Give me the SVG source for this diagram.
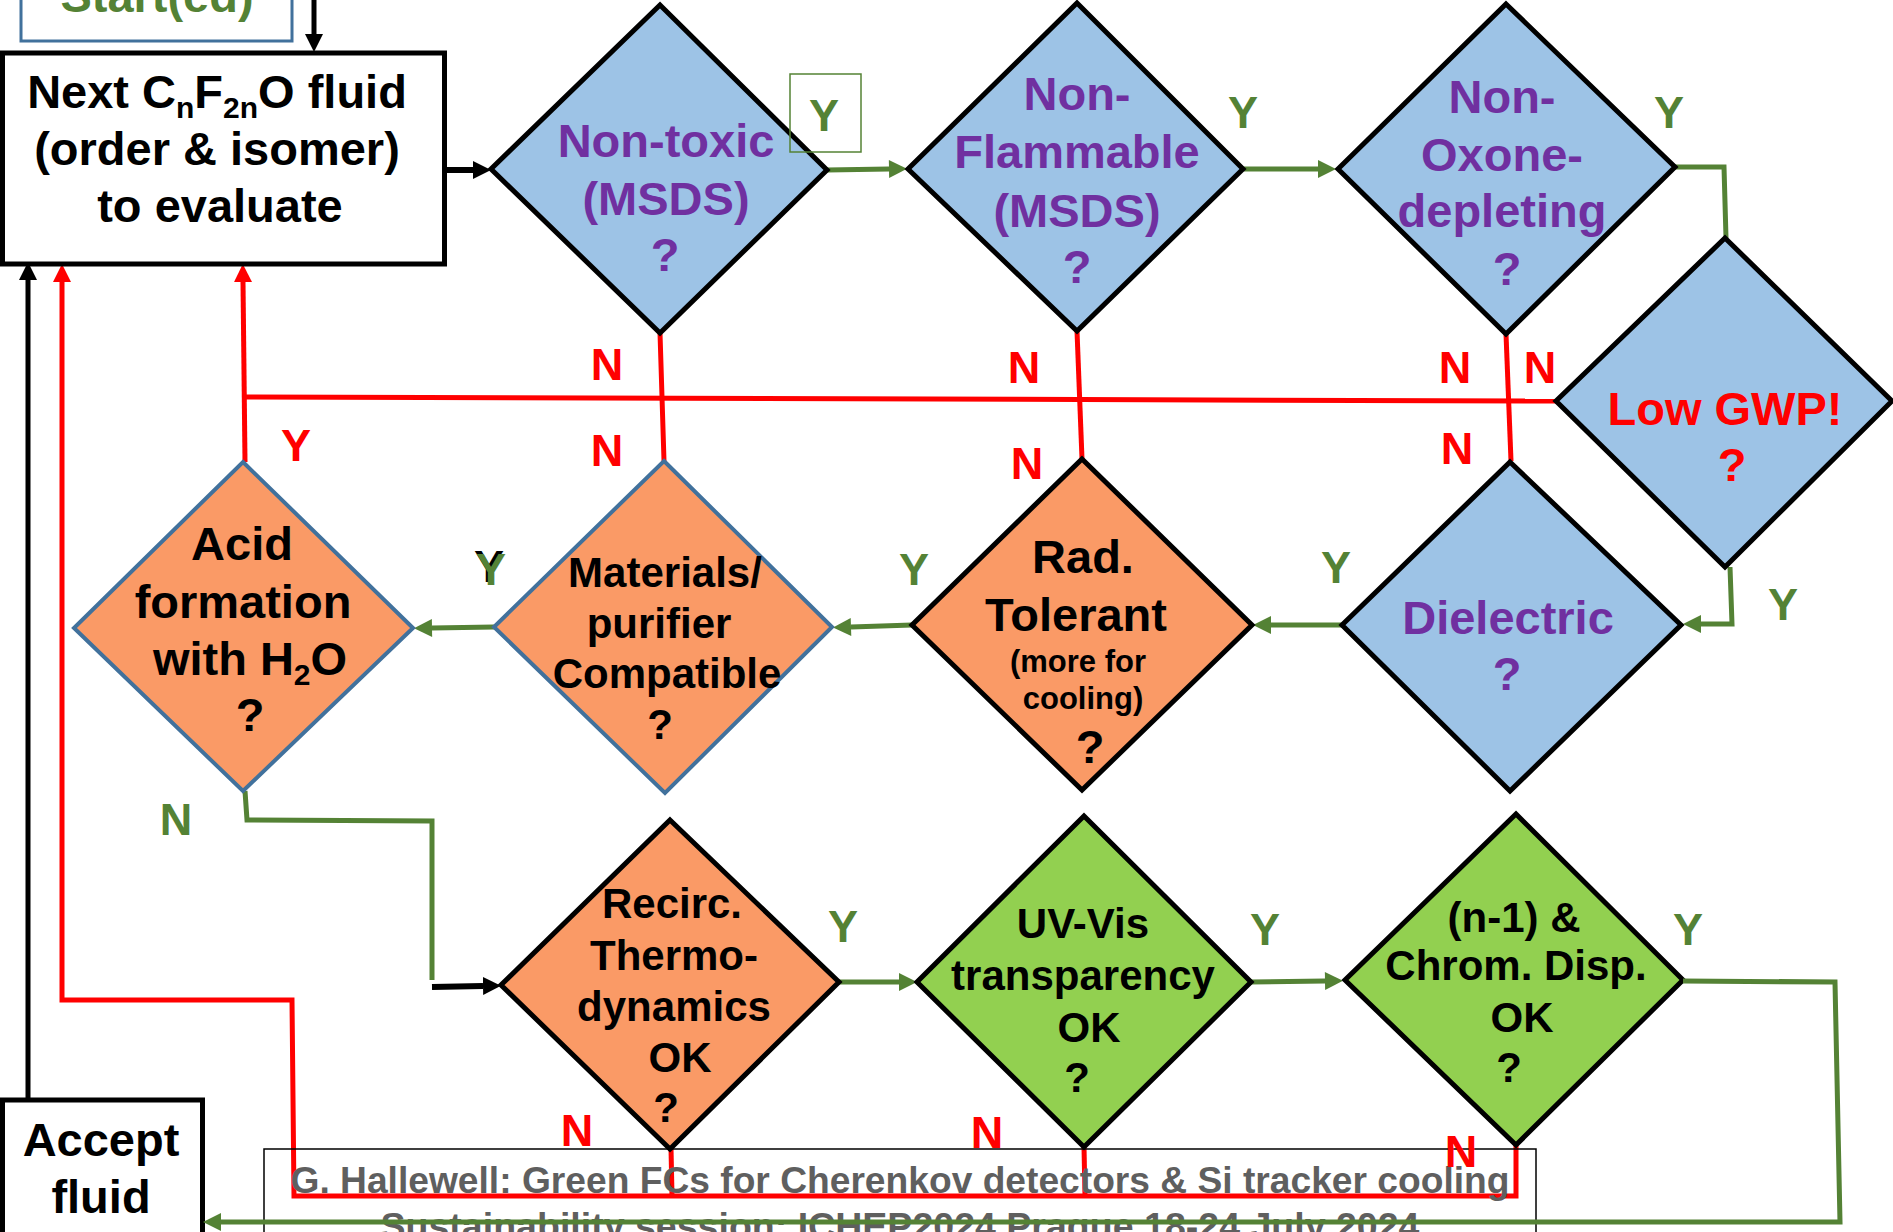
<svg xmlns="http://www.w3.org/2000/svg" width="1893" height="1232" viewBox="0 0 1893 1232">
<style>
.t{font-family:"Liberation Sans",Arial,sans-serif;font-weight:bold;text-anchor:middle}
.f47{font-size:47px}.f42{font-size:42px}.f31{font-size:31px}.lbl{font-size:45px}
.pur{fill:#7030A0}.blk{fill:#000}.grn{fill:#548235}.red{fill:#FF0000}.gry{fill:#5F5F5F}
.dblue{fill:#9DC3E6;stroke:#000;stroke-width:5;stroke-linejoin:miter}
.dor{fill:#FA9A66;stroke:#000;stroke-width:5;stroke-linejoin:miter}
.dorb{fill:#FA9A66;stroke:#41719C;stroke-width:4;stroke-linejoin:miter}
.dgr{fill:#92D050;stroke:#000;stroke-width:5;stroke-linejoin:miter}
.box{fill:#fff;stroke:#000;stroke-width:5}
.cg{fill:none;stroke:#548235;stroke-width:5}
.cr{fill:none;stroke:#FF0000;stroke-width:5}
.cb{fill:none;stroke:#000;stroke-width:5}
</style>
<defs>
<marker id="ag" viewBox="0 0 10 10" refX="0" refY="5" markerWidth="19" markerHeight="18" markerUnits="userSpaceOnUse" orient="auto"><path d="M0,0 L10,5 L0,10 z" fill="#548235"/></marker>
<marker id="ar" viewBox="0 0 10 10" refX="0" refY="5" markerWidth="18" markerHeight="18" markerUnits="userSpaceOnUse" orient="auto"><path d="M0,0 L10,5 L0,10 z" fill="#FF0000"/></marker>
<marker id="ak" viewBox="0 0 10 10" refX="0" refY="5" markerWidth="18" markerHeight="20" markerUnits="userSpaceOnUse" orient="auto"><path d="M0,0 L10,5 L0,10 z" fill="#000"/></marker>
</defs>

<g id="connectors-back">
<path class="cr" d="M660,333 L664,461"/>
<path class="cr" d="M1077,331 L1082,459"/>
<path class="cr" d="M1506,334 L1511,461"/>
<path class="cr" d="M243,397 L1557,401"/>
<path class="cr" d="M245,462 L243,282" marker-end="url(#ar)"/>
<path class="cr" d="M671,1148 L672,1196"/>
<path class="cr" d="M1084,1147 L1085,1196"/>
<path class="cr" d="M1516,1145 L1516,1196 L294,1196 L292,1000 L62,1000 L62,282" marker-end="url(#ar)"/>
<path class="cb" d="M28,1100 L28,280" marker-end="url(#ak)"/>
<path class="cb" d="M314,-5 L314,34" marker-end="url(#ak)"/>
<path class="cb" style="stroke-width:6" d="M446,170 L473,170" marker-end="url(#ak)"/>
<path class="cg" d="M827,170 L889,169" marker-end="url(#ag)"/>
<path class="cg" d="M1244,169 L1318,169" marker-end="url(#ag)"/>
<path class="cg" d="M1673,167 L1724,167 L1726,238"/>
<path class="cg" d="M1730,567 L1732,624 L1701,624" marker-end="url(#ag)"/>
<path class="cg" d="M1342,625 L1271,625" marker-end="url(#ag)"/>
<path class="cg" d="M912,625 L851,627" marker-end="url(#ag)"/>
<path class="cg" d="M494,627 L432,628" marker-end="url(#ag)"/>
<path class="cg" d="M245,791 L247,820 L432,821 L432,980"/>
<path class="cb" style="stroke-width:6" d="M432,987 L483,986" marker-end="url(#ak)"/>
<path class="cg" d="M839,982 L899,982" marker-end="url(#ag)"/>
<path class="cg" d="M1251,982 L1325,981" marker-end="url(#ag)"/>
</g>

<g id="start">
<rect x="21" y="-30" width="271" height="71" fill="#fff" stroke="#41719C" stroke-width="3"/>
<text class="t f47 grn" x="157" y="12">Start(ed)</text>
</g>

<g id="next">
<rect class="box" x="2.5" y="53" width="442" height="211"/>
<text class="t f47 blk" x="217" y="108">Next C<tspan font-size="30" dy="10">n</tspan><tspan dy="-10">F</tspan><tspan font-size="30" dy="10">2n</tspan><tspan dy="-10">O fluid</tspan></text>
<text class="t f47 blk" x="217" y="165">(order &amp; isomer)</text>
<text class="t f47 blk" x="220" y="222">to evaluate</text>
</g>

<g id="nontoxic">
<polygon class="dblue" points="660,5 827,170 660,333 491,169"/>
<text class="t f47 pur" x="666" y="157">Non-toxic</text>
<text class="t f47 pur" x="666" y="215">(MSDS)</text>
<text class="t f47 pur" x="665" y="271">?</text>
</g>

<g id="nonflammable">
<polygon class="dblue" points="1077,3 1243,169 1077,331 908,169"/>
<text class="t f47 pur" x="1077" y="110">Non-</text>
<text class="t f47 pur" x="1077" y="168">Flammable</text>
<text class="t f47 pur" x="1077" y="227">(MSDS)</text>
<text class="t f47 pur" x="1077" y="283">?</text>
</g>

<g id="nonoxone">
<polygon class="dblue" points="1506,4 1675,167 1506,334 1338,169"/>
<text class="t f47 pur" x="1502" y="113">Non-</text>
<text class="t f47 pur" x="1502" y="171">Oxone-</text>
<text class="t f47 pur" x="1502" y="227">depleting</text>
<text class="t f47 pur" x="1507" y="285">?</text>
</g>

<g id="lowgwp">
<polygon class="dblue" points="1725,238 1892,401 1725,567 1556,401"/>
<text class="t f47 red" x="1725" y="425">Low GWP!</text>
<text class="t f47 red" x="1732" y="481">?</text>
</g>

<g id="dielectric">
<polygon class="dblue" points="1510,462 1681,625 1510,791 1342,625"/>
<text class="t f47 pur" x="1508" y="634">Dielectric</text>
<text class="t f47 pur" x="1507" y="690">?</text>
</g>

<g id="radtolerant">
<polygon class="dor" points="1082,459 1252,625 1082,790 912,625"/>
<text class="t f47 blk" x="1083" y="573">Rad.</text>
<text class="t f47 blk" x="1076" y="631">Tolerant</text>
<text class="t f31 blk" x="1078" y="672">(more for</text>
<text class="t f31 blk" x="1083" y="709">cooling)</text>
<text class="t f47 blk" x="1090" y="763">?</text>
</g>

<g id="materials">
<polygon class="dorb" points="664,461 832,627 665,793 494,627"/>
<text class="t f42 blk" x="665" y="587">Materials/</text>
<text class="t f42 blk" x="659" y="638">purifier</text>
<text class="t f42 blk" x="667" y="688">Compatible</text>
<text class="t f42 blk" x="660" y="739">?</text>
</g>

<g id="acid">
<polygon class="dorb" points="243,462 413,628 243,791 74,628"/>
<text class="t f47 blk" x="242" y="560">Acid</text>
<text class="t f47 blk" x="243" y="618">formation</text>
<text class="t f47 blk" x="250" y="675">with H<tspan font-size="30" dy="10">2</tspan><tspan dy="-10">O</tspan></text>
<text class="t f47 blk" x="250" y="731">?</text>
</g>

<g id="recirc">
<polygon class="dor" points="670,820 839,982 670,1149 501,985"/>
<text class="t f42 blk" x="672" y="918">Recirc.</text>
<text class="t f42 blk" x="674" y="970">Thermo-</text>
<text class="t f42 blk" x="674" y="1021">dynamics</text>
<text class="t f42 blk" x="680" y="1072">OK</text>
<text class="t f42 blk" x="666" y="1122">?</text>
</g>

<g id="uvvis">
<polygon class="dgr" points="1084,816 1251,982 1084,1147 917,982"/>
<text class="t f42 blk" x="1083" y="938">UV-Vis</text>
<text class="t f42 blk" x="1083" y="990">transparency</text>
<text class="t f42 blk" x="1089" y="1042">OK</text>
<text class="t f42 blk" x="1077" y="1092">?</text>
</g>

<g id="chromdisp">
<polygon class="dgr" points="1516,814 1683,980 1516,1145 1345,980"/>
<text class="t f42 blk" x="1514" y="932">(n-1) &amp;</text>
<text class="t f42 blk" x="1516" y="980">Chrom. Disp.</text>
<text class="t f42 blk" x="1522" y="1032">OK</text>
<text class="t f42 blk" x="1509" y="1082">?</text>
</g>

<g id="accept">
<rect class="box" x="2.5" y="1100" width="200" height="150"/>
<text class="t f47 blk" x="101" y="1156">Accept</text>
<text class="t f47 blk" x="101" y="1213">fluid</text>
</g>

<g id="footer">
<rect x="264" y="1149" width="1272" height="120" fill="none" stroke="#000" stroke-width="1.5"/>
<text class="t gry" style="font-size:37px" x="900" y="1193" textLength="1219" lengthAdjust="spacingAndGlyphs">G. Hallewell: Green FCs for Cherenkov detectors &amp; Si tracker cooling</text>
<text class="t gry" style="font-size:37px" x="900" y="1239" textLength="1039" lengthAdjust="spacingAndGlyphs">Sustainability session:  ICHEP2024 Prague 18-24 July 2024</text>
</g>

<g id="connectors-front">
<path class="cg" d="M1683,981 L1835,982 L1840,1222 L221,1222" marker-end="url(#ag)"/>
</g>

<g id="labels">
<rect x="790" y="74" width="71" height="78" fill="none" stroke="#548235" stroke-width="1.5"/>
<text class="t lbl grn" x="824" y="131">Y</text>
<text class="t lbl grn" x="1243" y="128">Y</text>
<text class="t lbl grn" x="1669" y="128">Y</text>
<text class="t lbl red" x="607" y="380">N</text>
<text class="t lbl red" x="1024" y="383">N</text>
<text class="t lbl red" x="1455" y="383">N</text>
<text class="t lbl red" x="1540" y="383">N</text>
<text class="t lbl red" x="296" y="461">Y</text>
<text class="t lbl red" x="607" y="466">N</text>
<text class="t lbl red" x="1027" y="479">N</text>
<text class="t lbl red" x="1457" y="464">N</text>
<text class="t lbl blk" x="489" y="582">Y</text>
<text class="t lbl grn" x="491" y="585">Y</text>
<text class="t lbl grn" x="914" y="585">Y</text>
<text class="t lbl grn" x="1336" y="583">Y</text>
<text class="t lbl grn" x="1783" y="620">Y</text>
<text class="t lbl grn" x="176" y="835">N</text>
<text class="t lbl grn" x="843" y="942">Y</text>
<text class="t lbl grn" x="1265" y="945">Y</text>
<text class="t lbl grn" x="1688" y="945">Y</text>
<text class="t lbl red" x="577" y="1146">N</text>
<text class="t lbl red" x="987" y="1148">N</text>
<text class="t lbl red" x="1461" y="1167">N</text>
</g>
</svg>
